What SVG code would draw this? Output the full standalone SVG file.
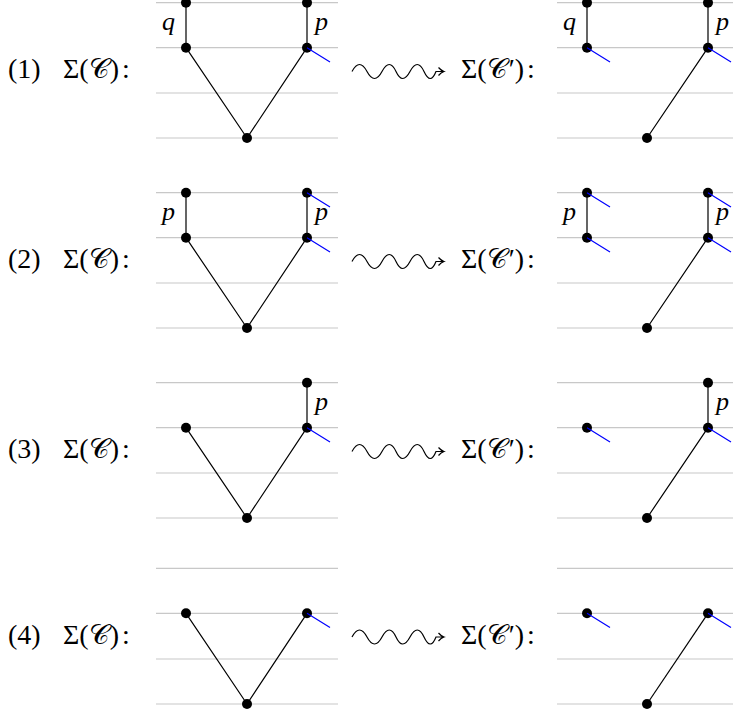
<svg xmlns="http://www.w3.org/2000/svg" width="733" height="711" viewBox="0 0 733 711">
<style>
.grid{stroke:#c8c8c8;stroke-width:1.2;fill:none}
.edge{stroke:#000;stroke-width:1.2;fill:none}
.blue{stroke:#0000ff;stroke-width:1.2;fill:none}
.node circle,.node use{fill:#000}
.lbl{font-family:"Liberation Serif","DejaVu Serif",serif;font-size:28px;fill:#000}
.var{font-family:"Liberation Serif","DejaVu Serif",serif;font-style:italic;font-size:26px;fill:#000}
.wave{stroke:#000;stroke-width:1.2;fill:none}
</style>
<defs>
<circle id="dot" r="5"/>
</defs>
<g id="gridlines">
<path class="grid" d="M156,2.7H338M156,47.7H338M156,93H338M156,138H338M557,2.7H733M557,47.7H733M557,93H733M557,138H733"/>
<path class="grid" d="M156,192.7H338M156,237.7H338M156,283H338M156,328H338M557,192.7H733M557,237.7H733M557,283H733M557,328H733"/>
<path class="grid" d="M156,382.7H338M156,427.7H338M156,473H338M156,518H338M557,382.7H733M557,427.7H733M557,473H733M557,518H733"/>
<path class="grid" d="M156,568.3H338M156,613.3H338M156,659H338M156,704H338M557,568.3H733M557,613.3H733M557,659H733M557,704H733"/>
</g>
<g id="connectors">
<path class="edge" d="M186,2.7V47.7M307,2.7V47.7M186,47.7L247,138M307,47.7L247,138"/>
<path class="edge" d="M587,2.7V47.7M708,2.7V47.7M708,47.7L647,138"/>
<path class="edge" d="M186,192.7V237.7M307,192.7V237.7M186,237.7L247,328M307,237.7L247,328"/>
<path class="edge" d="M587,192.7V237.7M708,192.7V237.7M708,237.7L647,328"/>
<path class="edge" d="M307,382.7V427.7M186,427.7L247,518M307,427.7L247,518"/>
<path class="edge" d="M708,382.7V427.7M708,427.7L647,518"/>
<path class="edge" d="M186,613.3L247,704M307,613.3L247,704"/>
<path class="edge" d="M708,613.3L647,704"/>
<g id="squiggles">
<path class="wave" d="M352,71.5Q359.5,57.5 367,71.5T382,71.5T396,71.5T410,71.5T424,71.5T436,71.5L443,71.5M438.5,67.5Q441,70.5 444,71.5Q441,72.5 438.5,75.5"/>
<path class="wave" d="M352,261.5Q359.5,247.5 367,261.5T382,261.5T396,261.5T410,261.5T424,261.5T436,261.5L443,261.5M438.5,257.5Q441,260.5 444,261.5Q441,262.5 438.5,265.5"/>
<path class="wave" d="M352,451.5Q359.5,437.5 367,451.5T382,451.5T396,451.5T410,451.5T424,451.5T436,451.5L443,451.5M438.5,447.5Q441,450.5 444,451.5Q441,452.5 438.5,455.5"/>
<path class="wave" d="M352,637Q359.5,623 367,637T382,637T396,637T410,637T424,637T436,637L443,637M438.5,633Q441,636 444,637Q441,638 438.5,641"/>
</g>
</g>
<g id="r1l-a" class="node"><use href="#dot" x="186" y="2.7"/></g>
<g id="r1l-b" class="node"><use href="#dot" x="186" y="47.7"/></g>
<g id="r1l-c" class="node"><use href="#dot" x="307" y="2.7"/></g>
<g id="r1l-d" class="node"><use href="#dot" x="307" y="47.7"/></g>
<g id="r1l-e" class="node"><use href="#dot" x="247" y="138"/></g>
<g id="r1r-a" class="node"><use href="#dot" x="587" y="2.7"/></g>
<g id="r1r-b" class="node"><use href="#dot" x="587" y="47.7"/></g>
<g id="r1r-c" class="node"><use href="#dot" x="708" y="2.7"/></g>
<g id="r1r-d" class="node"><use href="#dot" x="708" y="47.7"/></g>
<g id="r1r-e" class="node"><use href="#dot" x="647" y="138"/></g>
<g id="r2l-a" class="node"><use href="#dot" x="186" y="192.7"/></g>
<g id="r2l-b" class="node"><use href="#dot" x="186" y="237.7"/></g>
<g id="r2l-c" class="node"><use href="#dot" x="307" y="192.7"/></g>
<g id="r2l-d" class="node"><use href="#dot" x="307" y="237.7"/></g>
<g id="r2l-e" class="node"><use href="#dot" x="247" y="328"/></g>
<g id="r2r-a" class="node"><use href="#dot" x="587" y="192.7"/></g>
<g id="r2r-b" class="node"><use href="#dot" x="587" y="237.7"/></g>
<g id="r2r-c" class="node"><use href="#dot" x="708" y="192.7"/></g>
<g id="r2r-d" class="node"><use href="#dot" x="708" y="237.7"/></g>
<g id="r2r-e" class="node"><use href="#dot" x="647" y="328"/></g>
<g id="r3l-b" class="node"><use href="#dot" x="186" y="427.7"/></g>
<g id="r3l-c" class="node"><use href="#dot" x="307" y="382.7"/></g>
<g id="r3l-d" class="node"><use href="#dot" x="307" y="427.7"/></g>
<g id="r3l-e" class="node"><use href="#dot" x="247" y="518"/></g>
<g id="r3r-b" class="node"><use href="#dot" x="587" y="427.7"/></g>
<g id="r3r-c" class="node"><use href="#dot" x="708" y="382.7"/></g>
<g id="r3r-d" class="node"><use href="#dot" x="708" y="427.7"/></g>
<g id="r3r-e" class="node"><use href="#dot" x="647" y="518"/></g>
<g id="r4l-b" class="node"><use href="#dot" x="186" y="613.3"/></g>
<g id="r4l-d" class="node"><use href="#dot" x="307" y="613.3"/></g>
<g id="r4l-e" class="node"><use href="#dot" x="247" y="704"/></g>
<g id="r4r-b" class="node"><use href="#dot" x="587" y="613.3"/></g>
<g id="r4r-d" class="node"><use href="#dot" x="708" y="613.3"/></g>
<g id="r4r-e" class="node"><use href="#dot" x="647" y="704"/></g>
<g id="blue-ticks">
<path class="blue" d="M307,47.7l23,14.3M587,47.7l23,14.3M708,47.7l23,14.3"/>
<path class="blue" d="M307,192.7l23,14.3M307,237.7l23,14.3M587,192.7l23,14.3M587,237.7l23,14.3M708,192.7l23,14.3M708,237.7l23,14.3"/>
<path class="blue" d="M307,427.7l23,14.3M587,427.7l23,14.3M708,427.7l23,14.3"/>
<path class="blue" d="M307,613.3l23,14.3M587,613.3l23,14.3M708,613.3l23,14.3"/>
</g>
<g id="edge-labels">
<text class="var" x="162" y="29.7">q</text>
<text class="var" x="315" y="29.7">p</text>
<text class="var" x="563" y="29.7">q</text>
<text class="var" x="716" y="29.7">p</text>
<text class="var" x="162" y="219.7">p</text>
<text class="var" x="315" y="219.7">p</text>
<text class="var" x="563" y="219.7">p</text>
<text class="var" x="716" y="219.7">p</text>
<text class="var" x="315" y="409.7">p</text>
<text class="var" x="716" y="409.7">p</text>
</g>
<g id="row-labels">
<text class="lbl" x="8" y="78">(1)</text>
<text class="lbl" x="63" y="78">Σ(𝒞<tspan dx="1">)</tspan><tspan dx="3">:</tspan></text>
<text class="lbl" x="461" y="78">Σ(𝒞<tspan dx="2">′</tspan>)<tspan dx="3">:</tspan></text>
<text class="lbl" x="8" y="268">(2)</text>
<text class="lbl" x="63" y="268">Σ(𝒞<tspan dx="1">)</tspan><tspan dx="3">:</tspan></text>
<text class="lbl" x="461" y="268">Σ(𝒞<tspan dx="2">′</tspan>)<tspan dx="3">:</tspan></text>
<text class="lbl" x="8" y="458">(3)</text>
<text class="lbl" x="63" y="458">Σ(𝒞<tspan dx="1">)</tspan><tspan dx="3">:</tspan></text>
<text class="lbl" x="461" y="458">Σ(𝒞<tspan dx="2">′</tspan>)<tspan dx="3">:</tspan></text>
<text class="lbl" x="8" y="644">(4)</text>
<text class="lbl" x="63" y="644">Σ(𝒞<tspan dx="1">)</tspan><tspan dx="3">:</tspan></text>
<text class="lbl" x="461" y="644">Σ(𝒞<tspan dx="2">′</tspan>)<tspan dx="3">:</tspan></text>
</g>
</svg>
